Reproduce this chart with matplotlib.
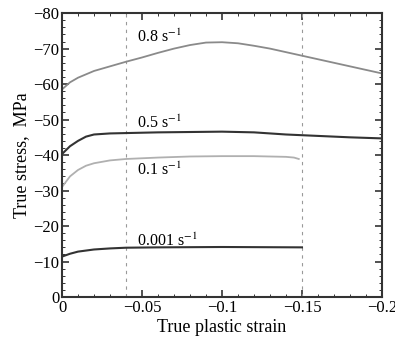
import matplotlib.pyplot as plt
from matplotlib.ticker import MultipleLocator, FuncFormatter

plt.rcParams['font.family'] = ['Liberation Serif', 'DejaVu Serif']
plt.rcParams['mathtext.fontset'] = 'stix'

# strain rate 0.8 s^-1
strain_08 = [0, -0.005, -0.01, -0.02, -0.03, -0.04, -0.05, -0.06, -0.07, -0.08, -0.09,
             -0.10, -0.11, -0.12, -0.13, -0.14, -0.15, -0.16, -0.17, -0.18, -0.19, -0.20]
stress_08 = [-58.5, -60.5, -61.8, -63.7, -65.0, -66.3, -67.5, -68.8, -70.0, -71.0, -71.7,
             -71.8, -71.5, -70.8, -70.0, -69.0, -68.0, -67.0, -66.0, -65.0, -64.0, -63.0]

# 0.5 s^-1
strain_05 = [0, -0.005, -0.01, -0.015, -0.02, -0.03, -0.04, -0.06, -0.08, -0.10,
             -0.12, -0.14, -0.16, -0.18, -0.20]
stress_05 = [-40.3, -42.5, -44.0, -45.2, -45.8, -46.1, -46.2, -46.4, -46.5, -46.6,
             -46.4, -45.8, -45.4, -45.0, -44.7]

# 0.1 s^-1
strain_01 = [0, -0.005, -0.01, -0.015, -0.02, -0.03, -0.04, -0.06, -0.08, -0.10,
             -0.12, -0.14, -0.145, -0.148]
stress_01 = [-31.0, -34.0, -35.8, -37.0, -37.7, -38.5, -38.9, -39.3, -39.6, -39.7,
             -39.7, -39.5, -39.3, -38.9]

# 0.001 s^-1
strain_0001 = [0, -0.005, -0.01, -0.02, -0.03, -0.04, -0.06, -0.10, -0.15]
stress_0001 = [-11.4, -12.2, -12.8, -13.4, -13.7, -13.9, -14.0, -14.1, -14.0]

guide_x = [-0.04, -0.15]


def fmt(v, pos):
    s = ('%g' % round(v, 4))
    return s.replace('-', '\u2212')


fig = plt.figure(figsize=(3.95, 3.45), dpi=100)
ax = fig.add_axes([0.157, 0.139, 0.81, 0.823])

for gx in guide_x:
    ax.axvline(gx, color='#999999', lw=0.8, ls=(0, (3, 4)))

ax.plot(strain_08, stress_08, color='#8a8a8a', lw=1.3)
ax.plot(strain_05, stress_05, color='#333333', lw=1.5)
ax.plot(strain_01, stress_01, color='#b0b0b0', lw=1.3)
ax.plot(strain_0001, stress_0001, color='#333333', lw=1.5)

ax.text(-0.047, -73.2, r'0.8 s$^{-1}$', fontsize=11.5, va='center')
ax.text(-0.047, -49.0, r'0.5 s$^{-1}$', fontsize=11.5, va='center')
ax.text(-0.047, -35.8, r'0.1 s$^{-1}$', fontsize=11.5, va='center')
ax.text(-0.047, -15.8, r'0.001 s$^{-1}$', fontsize=11.5, va='center')

ax.set_xlim(0, -0.2)
ax.set_ylim(0, -80)
ax.xaxis.set_major_locator(MultipleLocator(0.05))
ax.xaxis.set_minor_locator(MultipleLocator(0.01))
ax.yaxis.set_major_locator(MultipleLocator(10))
ax.yaxis.set_minor_locator(MultipleLocator(2))
ax.xaxis.set_major_formatter(FuncFormatter(fmt))
ax.yaxis.set_major_formatter(FuncFormatter(fmt))
ax.tick_params(which='both', direction='in', top=True, right=True, labelsize=12, color='#333333')
ax.tick_params(which='major', length=5, width=1.2, pad=2)
ax.tick_params(which='minor', length=2.5, width=0.7)
for s in ax.spines.values():
    s.set_linewidth(1.5)
    s.set_color('#333333')

ax.set_xlabel('True plastic strain', fontsize=13, labelpad=2)
ax.set_ylabel('True stress,  MPa', fontsize=13, labelpad=2)

fig.savefig('out.png', dpi=100)
